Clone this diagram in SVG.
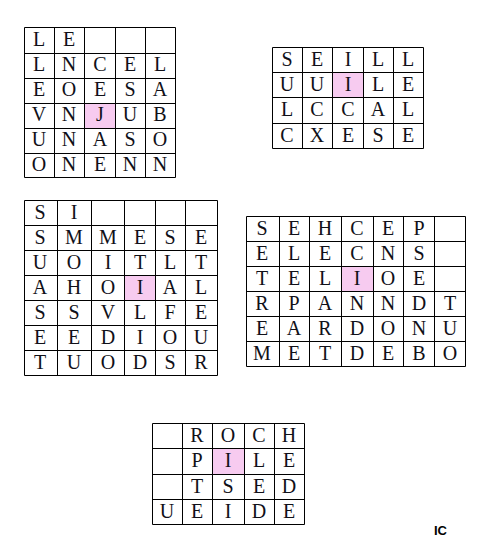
<svg xmlns="http://www.w3.org/2000/svg" width="480" height="557" viewBox="0 0 480 557">
<style>
.bg{fill:#ffffff}
.grid{fill:none;stroke:#000;stroke-width:1}
.hl{fill:#f7cbf0}
.t{font-family:"Liberation Serif","Times New Roman",serif;font-size:20px;fill:#101018;text-anchor:middle}
.sig{font-family:"Liberation Sans",Arial,sans-serif;font-size:13px;font-weight:bold;fill:#000}
</style>
<rect class="bg" x="0" y="0" width="480" height="557"/>
<g id="connectors"></g>

<g id="grid1">
<rect class="hl" x="85" y="103" width="30" height="25"/>
<path class="grid" d="M24.5 27.5H175.5V177.5H24.5Z M54.5 27.5V177.5 M84.5 27.5V177.5 M115.5 27.5V177.5 M145.5 27.5V177.5 M24.5 53.5H175.5 M24.5 78.5H175.5 M24.5 103.5H175.5 M24.5 128.5H175.5 M24.5 153.5H175.5"/>
<g class="t">
<text x="39" y="46">L</text><text x="69" y="46">E</text>
<text x="39" y="71">L</text><text x="69" y="71">N</text><text x="100" y="71">C</text><text x="130" y="71">E</text><text x="160" y="71">L</text>
<text x="39" y="96">E</text><text x="69" y="96">O</text><text x="100" y="96">E</text><text x="130" y="96">S</text><text x="160" y="96">A</text>
<text x="39" y="121">V</text><text x="69" y="121">N</text><text x="100" y="121">J</text><text x="130" y="121">U</text><text x="160" y="121">B</text>
<text x="39" y="146">U</text><text x="69" y="146">N</text><text x="100" y="146">A</text><text x="130" y="146">S</text><text x="160" y="146">O</text>
<text x="39" y="171">O</text><text x="69" y="171">N</text><text x="100" y="171">E</text><text x="130" y="171">N</text><text x="160" y="171">N</text>
</g>
</g>

<g id="grid2">
<rect class="hl" x="333" y="72.5" width="30.5" height="25"/>
<path class="grid" d="M272.5 47.5H423.5V148.5H272.5Z M302.5 47.5V148.5 M332.5 47.5V148.5 M363.5 47.5V148.5 M393.5 47.5V148.5 M272.5 72.5H423.5 M272.5 97.5H423.5 M272.5 123.5H423.5"/>
<g class="t">
<text x="287" y="66">S</text><text x="317" y="66">E</text><text x="348" y="66">I</text><text x="378" y="66">L</text><text x="408" y="66">L</text>
<text x="287" y="91">U</text><text x="317" y="91">U</text><text x="348" y="91">I</text><text x="378" y="91">L</text><text x="408" y="91">E</text>
<text x="287" y="116">L</text><text x="317" y="116">C</text><text x="348" y="116">C</text><text x="378" y="116">A</text><text x="408" y="116">L</text>
<text x="287" y="142">C</text><text x="317" y="142">X</text><text x="348" y="142">E</text><text x="378" y="142">S</text><text x="408" y="142">E</text>
</g>
</g>

<g id="grid3">
<rect class="hl" x="124.5" y="275.5" width="31" height="25"/>
<path class="grid" d="M24.5 200.5H217.5V375.5H24.5Z M57.5 200.5V375.5 M91.5 200.5V375.5 M124.5 200.5V375.5 M155.5 200.5V375.5 M185.5 200.5V375.5 M24.5 225.5H217.5 M24.5 250.5H217.5 M24.5 275.5H217.5 M24.5 300.5H217.5 M24.5 325.5H217.5 M24.5 350.5H217.5"/>
<g class="t">
<text x="40" y="219">S</text><text x="74" y="219">I</text>
<text x="40" y="244">S</text><text x="74" y="244">M</text><text x="108" y="244">M</text><text x="140" y="244">E</text><text x="170" y="244">S</text><text x="201" y="244">E</text>
<text x="40" y="269">U</text><text x="74" y="269">O</text><text x="108" y="269">I</text><text x="140" y="269">T</text><text x="170" y="269">L</text><text x="201" y="269">T</text>
<text x="40" y="294">A</text><text x="74" y="294">H</text><text x="108" y="294">O</text><text x="140" y="294">I</text><text x="170" y="294">A</text><text x="201" y="294">L</text>
<text x="40" y="319">S</text><text x="74" y="319">S</text><text x="108" y="319">V</text><text x="140" y="319">L</text><text x="170" y="319">F</text><text x="201" y="319">E</text>
<text x="40" y="344">E</text><text x="74" y="344">E</text><text x="108" y="344">D</text><text x="140" y="344">I</text><text x="170" y="344">O</text><text x="201" y="344">U</text>
<text x="40" y="369">T</text><text x="74" y="369">U</text><text x="108" y="369">O</text><text x="140" y="369">D</text><text x="170" y="369">S</text><text x="201" y="369">R</text>
</g>
</g>

<g id="grid4">
<rect class="hl" x="341.5" y="266.5" width="32" height="25"/>
<path class="grid" d="M246.5 216.5H465.5V366.5H246.5Z M279.5 216.5V366.5 M309.5 216.5V366.5 M341.5 216.5V366.5 M373.5 216.5V366.5 M403.5 216.5V366.5 M434.5 216.5V366.5 M246.5 241.5H465.5 M246.5 266.5H465.5 M246.5 291.5H465.5 M246.5 316.5H465.5 M246.5 341.5H465.5"/>
<g class="t">
<text x="262" y="235">S</text><text x="294" y="235">E</text><text x="325" y="235">H</text><text x="357" y="235">C</text><text x="388" y="235">E</text><text x="419" y="235">P</text>
<text x="262" y="260">E</text><text x="294" y="260">L</text><text x="325" y="260">E</text><text x="357" y="260">C</text><text x="388" y="260">N</text><text x="419" y="260">S</text>
<text x="262" y="285">T</text><text x="294" y="285">E</text><text x="325" y="285">L</text><text x="357" y="285">I</text><text x="388" y="285">O</text><text x="419" y="285">E</text>
<text x="262" y="310">R</text><text x="294" y="310">P</text><text x="325" y="310">A</text><text x="357" y="310">N</text><text x="388" y="310">N</text><text x="419" y="310">D</text><text x="450" y="310">T</text>
<text x="262" y="335">E</text><text x="294" y="335">A</text><text x="325" y="335">R</text><text x="357" y="335">D</text><text x="388" y="335">O</text><text x="419" y="335">N</text><text x="450" y="335">U</text>
<text x="262" y="360">M</text><text x="294" y="360">E</text><text x="325" y="360">T</text><text x="357" y="360">D</text><text x="388" y="360">E</text><text x="419" y="360">B</text><text x="450" y="360">O</text>
</g>
</g>

<g id="grid5">
<rect class="hl" x="212.5" y="448.5" width="31.5" height="25.5"/>
<path class="grid" d="M152.5 423.5H304.5V524.5H152.5Z M182.5 423.5V524.5 M212.5 423.5V524.5 M244.5 423.5V524.5 M274.5 423.5V524.5 M152.5 448.5H304.5 M152.5 474.5H304.5 M152.5 499.5H304.5"/>
<g class="t">
<text x="197" y="442">R</text><text x="228" y="442">O</text><text x="259" y="442">C</text><text x="289" y="442">H</text>
<text x="197" y="467">P</text><text x="228" y="467">I</text><text x="259" y="467">L</text><text x="289" y="467">E</text>
<text x="197" y="493">T</text><text x="228" y="493">S</text><text x="259" y="493">E</text><text x="289" y="493">D</text>
<text x="167" y="518">U</text><text x="197" y="518">E</text><text x="228" y="518">I</text><text x="259" y="518">D</text><text x="289" y="518">E</text>
</g>
</g>

<text class="sig" x="434" y="535">IC</text>
</svg>
